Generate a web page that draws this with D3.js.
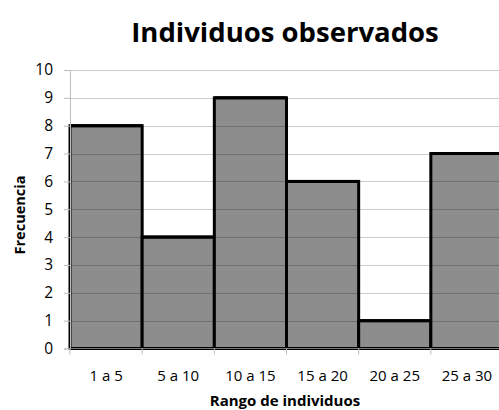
<!DOCTYPE html>
<html>
<head>
<meta charset="utf-8">
<script src="https://cdn.jsdelivr.net/npm/d3@7"></script>
<style>
  html, body { margin: 0; padding: 0; background: #fff; overflow: hidden; }
  svg { display: block; font-family: "Open Sans", "Noto Sans", sans-serif; }
</style>
</head>
<body>
<svg id="chart" width="499" height="410"></svg>
<script>
// Histogram of observed individuals per range
const categories = ["1 a 5", "5 a 10", "10 a 15", "15 a 20", "20 a 25", "25 a 30"];
const frequencies = [8, 4, 9, 6, 1, 7];
const yTicks = [0, 1, 2, 3, 4, 5, 6, 7, 8, 9, 10];
const titleText = "Individuos observados";
const xTitle = "Rango de individuos";
const yTitle = "Frecuencia";

const svg = d3.select("#chart");
const plotLeft = 70, plotRight = 503, plotTop = 70, plotBottom = 348.5;

const x = d3.scaleBand().domain(categories).range([plotLeft, plotRight]).padding(0);
const y = d3.scaleLinear().domain([0, 10]).range([plotBottom, plotTop]);

// Bars
svg.append("g").selectAll("rect")
  .data(categories)
  .join("rect")
  .attr("x", d => x(d))
  .attr("y", (d, i) => y(frequencies[i]))
  .attr("width", x.bandwidth())
  .attr("height", (d, i) => y(0) - y(frequencies[i]))
  .attr("fill", "#8d8d8d")
  .attr("stroke", "#000")
  .attr("stroke-width", 3);

// Horizontal gridlines, drawn over the bars with transparency
svg.append("g").selectAll("line")
  .data(yTicks.filter(t => t > 0))
  .join("line")
  .attr("x1", plotLeft).attr("x2", plotRight)
  .attr("y1", d => Math.round(y(d)) + 0.5)
  .attr("y2", d => Math.round(y(d)) + 0.5)
  .attr("stroke", "#000")
  .attr("stroke-opacity", 0.2)
  .attr("stroke-width", 1);

// Redraw bar tops so the outline stays on top of the gridlines
svg.append("g").selectAll("line")
  .data(categories)
  .join("line")
  .attr("x1", d => x(d)).attr("x2", d => x(d) + x.bandwidth())
  .attr("y1", (d, i) => y(frequencies[i]))
  .attr("y2", (d, i) => y(frequencies[i]))
  .attr("stroke", "#000")
  .attr("stroke-width", 3);

// Y axis
const yAxis = d3.axisLeft(y).tickValues(yTicks).tickSize(6).tickPadding(11);
const gy = svg.append("g").attr("transform", `translate(${plotLeft},0)`).call(yAxis);
gy.attr("font-size", null).attr("font-family", null);
gy.select(".domain").attr("stroke", "#bdbdbd");
gy.selectAll(".tick line").attr("stroke", "#bdbdbd");
gy.selectAll(".tick text").style("font-size", "15.5px").attr("fill", "#000");

// X axis: ticks sit at band boundaries, labels centered in bands
const gx = svg.append("g").attr("transform", `translate(0,${plotBottom})`);
gx.append("line").attr("x1", plotLeft).attr("x2", plotRight).attr("y1", 0).attr("y2", 0)
  .attr("stroke", "#7a7a7a").attr("stroke-width", 1);
gx.selectAll("line.tk")
  .data(categories.concat([null]))
  .join("line").attr("class", "tk")
  .attr("x1", (d, i) => plotLeft + i * x.bandwidth())
  .attr("x2", (d, i) => plotLeft + i * x.bandwidth())
  .attr("y1", 0).attr("y2", 6)
  .attr("stroke", "#bdbdbd");
gx.selectAll("text")
  .data(categories)
  .join("text")
  .attr("x", d => x(d) + x.bandwidth() / 2)
  .attr("y", 32)
  .attr("text-anchor", "middle")
  .style("font-size", "15px")
  .attr("fill", "#000")
  .text(d => d);

// Titles
svg.append("text").attr("x", 285).attr("y", 42).attr("text-anchor", "middle")
  .style("font-size", "27.5px").attr("font-weight", "bold").text(titleText);
svg.append("text").attr("x", 285).attr("y", 406).attr("text-anchor", "middle")
  .style("font-size", "15px").attr("font-weight", "bold").text(xTitle);
svg.append("text").attr("transform", "translate(25,215) rotate(-90)")
  .attr("text-anchor", "middle")
  .style("font-size", "14.5px").attr("font-weight", "bold").text(yTitle);
</script>
</body>
</html>
